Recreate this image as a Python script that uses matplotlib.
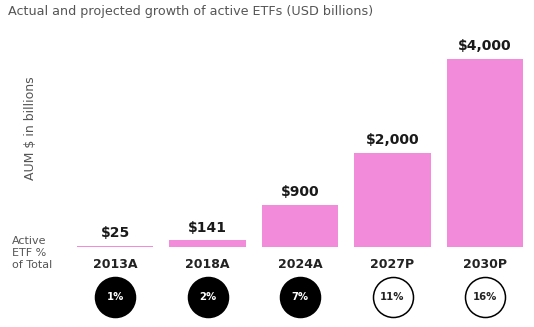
import matplotlib
matplotlib.use("Agg")
import matplotlib.pyplot as plt
import matplotlib.transforms as mtransforms

years = ["2013A", "2018A", "2024A", "2027P", "2030P"]
aum = [25, 141, 900, 2000, 4000]
value_labels = ["$25", "$141", "$900", "$2,000", "$4,000"]
pct_labels = ["1%", "2%", "7%", "11%", "16%"]
is_actual = [True, True, True, False, False]

pink = "#F28BDA"
plt.rcParams['font.family'] = ['DejaVu Sans']

fig = plt.figure(figsize=(5.34, 3.27), dpi=100)
ax = fig.add_axes([68.75/534, 80/327, 462.5/534, 188/327])
x = list(range(len(years)))
ax.bar(x, aum, width=0.83, color=pink, edgecolor="none")
ax.set_xlim(-0.5, 4.5)
ax.set_ylim(0, 4000)
for s in ax.spines.values():
    s.set_visible(False)
ax.set_xticks([])
ax.set_yticks([])

trans = mtransforms.blended_transform_factory(ax.transData, ax.transAxes)
for xi, v, lab in zip(x, aum, value_labels):
    ax.annotate(lab, (xi, v), xytext=(0, 4), textcoords="offset points",
                ha="center", va="bottom", fontsize=10, fontweight="bold", color="#1a1a1a")
for xi, yr in zip(x, years):
    ax.text(xi, -18/188, yr, transform=trans, ha="center", va="center",
            fontsize=9, fontweight="bold", color="#222222")
for xi, p, act in zip(x, pct_labels, is_actual):
    face = "black" if act else "white"
    tc = "white" if act else "#222222"
    ax.scatter([xi], [-50/188], s=830, transform=trans, clip_on=False,
               facecolor=face, edgecolor="black", linewidths=1.1, zorder=3)
    ax.text(xi, -50/188, p, transform=trans, ha="center", va="center",
            fontsize=7.3, fontweight="bold", color=tc, zorder=4)

fig.text(8/534, 1 - 12/327, "Actual and projected growth of active ETFs (USD billions)",
         ha="left", va="center", fontsize=9.2, color="#555555")
fig.text(31/534, 1 - 128/327, "AUM $ in billions", rotation=90, ha="center", va="center",
         fontsize=9, color="#555555")
fig.text(12/534, 1 - 253/327, "Active\nETF %\nof Total", ha="left", va="center",
         fontsize=8, color="#555555", linespacing=1.25)

fig.savefig("out.png", dpi=100)
